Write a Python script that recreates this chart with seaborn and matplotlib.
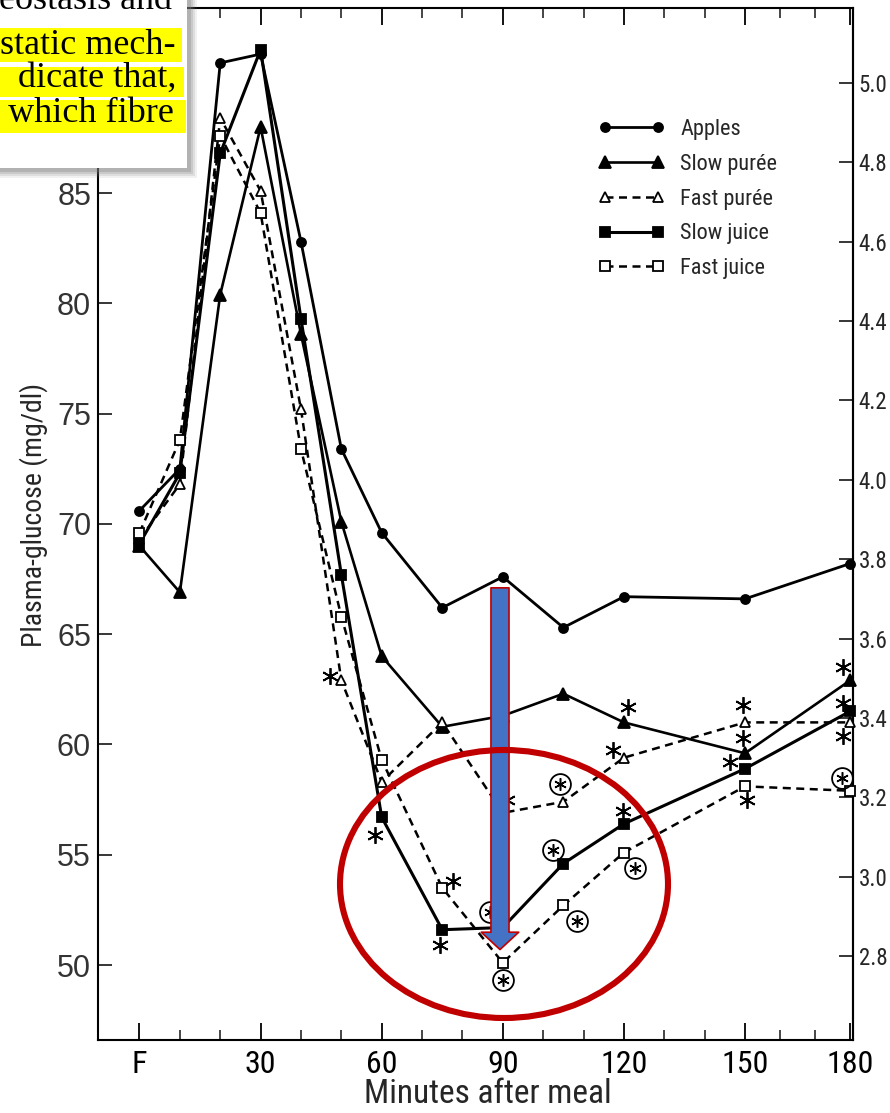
import os
import numpy as np
import pandas as pd
import matplotlib
matplotlib.use("Agg")
import matplotlib.pyplot as plt
import seaborn as sns
from matplotlib import font_manager as fm
from matplotlib.patches import Rectangle, Ellipse, FancyArrowPatch, ArrowStyle

# ---- data: plasma glucose (mg/dl) after each test meal ----
minutes = [0, 10, 20, 30, 40, 50, 60, 75, 90, 105, 120, 150, 180]
apples = [70.6, 72.5, 90.9, 91.3, 82.8, 73.4, 69.6, 66.2, 67.6, 65.3, 66.7, 66.6, 68.2]
slow_puree = [69.0, 66.9, 80.4, 88.0, 78.6, 70.1, 64.0, 60.8, 61.3, 62.3, 61.0, 59.6, 62.9]
fast_puree = [69.3, 71.8, 88.4, 85.1, 75.2, 62.9, 58.3, 61.0, 56.9, 57.4, 59.4, 61.0, 61.0]
slow_juice = [69.1, 72.3, 86.8, 91.5, 79.3, 67.7, 56.7, 51.6, 51.7, 54.6, 56.4, 58.9, 61.5]
fast_juice = [69.6, 73.8, 87.6, 84.1, 73.4, 65.8, 59.3, 53.5, 50.1, 52.7, 55.1, 58.1, 57.9]

meal_names = ["Apples", "Slow purée", "Fast purée", "Slow juice", "Fast juice"]

# significance flags: (minutes, mg/dl)
star_t = [47.3, 58.3, 77.7, 74.4, 91.0, 121.0, 117.3, 119.8, 149.5, 149.5, 146.3, 150.6, 178.0, 178.0, 178.0]
star_v = [63.1, 55.9, 53.8, 50.9, 57.5, 61.7, 59.75, 57.0, 61.8, 60.3, 59.2, 57.5, 63.5, 61.9, 60.4]
circ_t = [177.7, 104.2, 102.4, 108.4, 86.8, 90.0, 122.7]
circ_v = [58.5, 58.2, 55.2, 52.0, 52.4, 49.3, 54.4]

x_ticks = [0, 30, 60, 90, 120, 150, 180]
x_labels = ["F", "30", "60", "90", "120", "150", "180"]
x_minor = [10, 20, 40, 50, 70, 80, 100, 110, 130, 140, 160, 170]
y_ticks = [50, 55, 60, 65, 70, 75, 80, 85]
mmol_ticks = [2.8, 3.0, 3.2, 3.4, 3.6, 3.8, 4.0, 4.2, 4.4, 4.6, 4.8, 5.0]

df = pd.DataFrame({
    "minutes": minutes * 5,
    "glucose": apples + slow_puree + fast_puree + slow_juice + fast_juice,
    "meal": np.repeat(meal_names, len(minutes)),
})

sns.set_theme(style="white")
plt.rcParams["font.family"] = ["DejaVu Sans"]


def narrow_font_path():
    """Regular-weight condensed sans face if one is installed."""
    prefs = ["LiberationSansNarrow-Regular", "RobotoCondensed-Regular",
             "DejaVuSansCondensed.ttf", "NotoSans-Condensed.ttf",
             "NotoSans-CondensedRegular", "OpenSans-CondensedRegular",
             "OpenSans_Condensed-Regular", "Lato-Condensed"]
    files = [f.fname for f in fm.fontManager.ttflist]
    for p in prefs:
        for f in files:
            if p in os.path.basename(f):
                return f
    for f in files:
        b = os.path.basename(f)
        if ("Condensed" in b or "Narrow" in b) and not any(
                k in b for k in ("Bold", "Italic", "Oblique", "Light", "Thin", "Black", "Semi", "Extra", "Medium")):
            return f
    return None


NARROW = narrow_font_path()


def nfont(size):
    if NARROW:
        return fm.FontProperties(fname=NARROW, size=size)
    return fm.FontProperties(family="DejaVu Sans", size=size * 0.85)


W, H = 890, 1113
fig = plt.figure(figsize=(W / 100, H / 100), dpi=100)
fig.patch.set_facecolor("white")
ax = fig.add_axes([98 / W, 1 - 1040 / H, 755 / W, 1032 / H])


def fwd(t):
    t = np.asarray(t, float)
    return np.where(t <= 150, t, 150 + (t - 150) * 0.867)


def inv(u):
    u = np.asarray(u, float)
    return np.where(u <= 150, u, 150 + (u - 150) / 0.867)


ax.set_xscale("function", functions=(fwd, inv))

dash = (0, (3.2, 2.2))
styles = {
    "Apples": dict(marker="o", ms=6.5, mfc="black", ls="-", lw=2.0),
    "Slow purée": dict(marker="^", ms=8, mfc="black", ls="-", lw=1.9),
    "Fast purée": dict(marker="^", ms=7.5, mfc="white", ls=dash, lw=1.8),
    "Slow juice": dict(marker="s", ms=7, mfc="black", ls="-", lw=2.2),
    "Fast juice": dict(marker="s", ms=6.5, mfc="white", ls=dash, lw=1.8),
}

for name in meal_names:
    st = styles[name]
    sns.lineplot(data=df[df["meal"] == name], x="minutes", y="glucose", ax=ax,
                 color="black", errorbar=None, label=name, marker=st["marker"],
                 markersize=st["ms"], markerfacecolor=st["mfc"],
                 markeredgecolor="black", markeredgewidth=1.3,
                 linestyle=st["ls"], linewidth=st["lw"], clip_on=False, zorder=3)

# significance symbols
ax.plot(star_t, star_v, ls="none", marker=(6, 2, 0), ms=12, mew=1.3, color="black", zorder=4)
ax.plot(circ_t, circ_v, ls="none", marker="o", ms=15, mfc="none", mec="black", mew=1.3, zorder=4)
ax.plot(circ_t, circ_v, ls="none", marker=(6, 2, 0), ms=9, mew=1.1, color="black", zorder=4)

ax.set_xlim(-10.28, 180.85)
ax.set_ylim(46.60, 93.39)

ax.set_xticks(x_ticks)
ax.set_xticklabels(x_labels)
ax.set_xticks(x_minor, minor=True)
ax.tick_params(axis="x", which="major", direction="in", length=12, width=1.3,
               top=True, bottom=True, pad=7, colors="black")
ax.tick_params(axis="x", which="minor", direction="in", length=7, width=1.2,
               top=True, bottom=True)
for lab in ax.get_xticklabels():
    lab.set_fontproperties(nfont(23))
ax.set_yticks(y_ticks)
ax.set_yticklabels([str(v) for v in y_ticks], family=["Liberation Sans", "DejaVu Sans"],
                   color="#333333")
ax.tick_params(axis="y", which="major", direction="in", length=10, width=1.3,
               left=True, right=False, labelsize=22, pad=5)

for sp in ax.spines.values():
    sp.set_color("black")
    sp.set_linewidth(1.5)

sec = ax.secondary_yaxis("right", functions=(lambda y: y / 18.0, lambda m: m * 18.0))
sec.set_yticks(mmol_ticks)
sec.set_yticklabels([f"{m:.1f}" for m in mmol_ticks])
sec.tick_params(direction="in", length=10, width=1.3, pad=4)
for lab in sec.get_yticklabels():
    lab.set_fontproperties(nfont(16.5))
sec.spines["right"].set_linewidth(1.5)

ax.set_xlabel("Minutes after meal", fontproperties=nfont(24))
ax.xaxis.set_label_coords(0.517, -0.037)
ax.set_ylabel("Plasma-glucose (mg/dl)", fontproperties=nfont(20))
ax.yaxis.set_label_coords(-0.066, 0.509)

leg = ax.legend(loc="upper left", bbox_to_anchor=(598 / W, 1 - 119 / H),
                bbox_transform=fig.transFigure, frameon=False, numpoints=2,
                prop=nfont(16), handlelength=3.0, handletextpad=0.7,
                labelspacing=0.62, borderpad=0, borderaxespad=0)


def px(x, y):
    return (x / W, 1 - y / H)


# red ring and blue block arrow around the 90-minute trough
ring = Ellipse(px(504, 884), 328 / W, 268 / H, transform=fig.transFigure,
               fill=False, ec="#C00000", lw=4.4, zorder=5)
fig.add_artist(ring)
arrow = FancyArrowPatch((89.3, 67.1), (89.3, 50.7),
                        arrowstyle=ArrowStyle("simple", head_length=12.5, head_width=27, tail_width=13),
                        mutation_scale=1, shrinkA=0, shrinkB=0,
                        fc="#4472C4", ec="#C00000", lw=1.2, zorder=6, clip_on=False)
ax.add_patch(arrow)

# text excerpt box with drop shadow in the upper left
for k, a in enumerate([0.10, 0.16, 0.22, 0.30]):
    off = 10 - 2 * k
    fig.add_artist(Rectangle(px(0, 168 + off), (187 + off) / W, (168 + off) / H,
                             transform=fig.transFigure, fc="#7f7f7f", ec="none",
                             alpha=a, zorder=7))
fig.add_artist(Rectangle(px(0, 168), 187 / W, 168 / H, transform=fig.transFigure,
                         fc="white", ec="none", zorder=8))
for (y0, y1, x1) in [(28, 62, 182), (67, 97, 184), (100, 133, 186)]:
    fig.add_artist(Rectangle(px(0, y1), x1 / W, (y1 - y0) / H, transform=fig.transFigure,
                             fc="#FFFF00", ec="none", zorder=9))
serif = ["Liberation Serif", "DejaVu Serif"]
for txt, xr, yb in [("eostasis and", 172, 9), ("static mech-", 176, 54),
                    ("dicate that,", 176, 87), ("which fibre", 174, 122)]:
    fig.text(*px(xr, yb), txt, ha="right", va="baseline", fontsize=26,
             family=serif, color="black", zorder=10)

fig.savefig("out.png", dpi=100, facecolor="white")
